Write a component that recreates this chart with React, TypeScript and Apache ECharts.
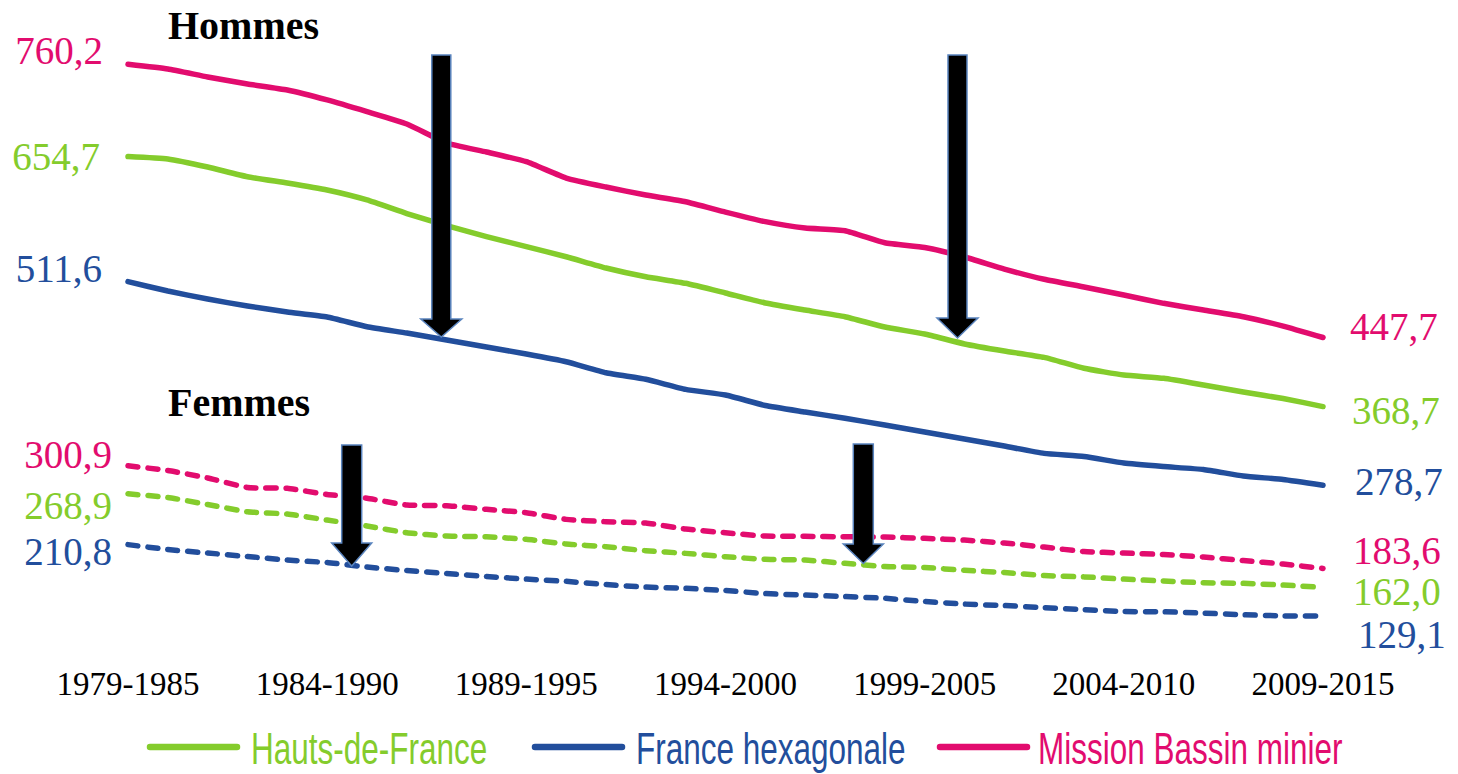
import React, { useEffect, useRef } from 'react';
import * as echarts from 'echarts';

const periods = [
  '1979-1985', '1980-1986', '1981-1987', '1982-1988', '1983-1989', '1984-1990',
  '1985-1991', '1986-1992', '1987-1993', '1988-1994', '1989-1995', '1990-1996',
  '1991-1997', '1992-1998', '1993-1999', '1994-2000', '1995-2001', '1996-2002',
  '1997-2003', '1998-2004', '1999-2005', '2000-2006', '2001-2007', '2002-2008',
  '2003-2009', '2004-2010', '2005-2011', '2006-2012', '2007-2013', '2008-2014',
  '2009-2015',
];

const hdfHommes = [
  654.7, 651.9, 642.7, 631.6, 624.4, 616.4, 605.0, 589.5, 575.8, 563.2, 551.6,
  540.1, 527.2, 517.2, 509.7, 498.6, 487.2, 479.1, 471.5, 459.7, 451.7, 440.3,
  432.2, 425.0, 412.5, 404.8, 401.0, 393.4, 385.4, 377.9, 368.7,
];
const franceHommes = [
  511.6, 500.9, 491.7, 483.7, 476.9, 471.1, 460.0, 452.8, 444.8, 436.8, 428.8,
  420.0, 407.4, 399.9, 388.4, 381.9, 369.9, 362.5, 355.3, 347.6, 339.6, 331.6,
  323.6, 315.2, 311.6, 304.1, 300.1, 296.7, 289.3, 285.3, 278.7,
];
const bassinHommes = [
  760.2, 754.8, 745.7, 737.7, 730.8, 719.4, 706.0, 691.9, 670.2, 659.9, 648.8,
  630.1, 619.8, 610.7, 603.0, 591.2, 580.2, 572.9, 569.9, 556.1, 550.6, 539.8,
  526.0, 514.3, 505.5, 496.3, 486.8, 479.1, 471.5, 460.8, 447.7,
];
const hdfFemmes = [
  268.9, 264.7, 256.7, 248.4, 245.8, 238.9, 232.1, 224.4, 220.6, 219.8, 216.9,
  211.5, 208.4, 203.8, 200.8, 196.9, 194.0, 193.2, 189.4, 185.7, 184.6, 181.4,
  178.9, 175.4, 173.9, 171.4, 169.2, 167.2, 166.5, 164.6, 162.0,
];
const franceFemmes = [
  210.8, 205.2, 201.2, 197.2, 193.2, 190.3, 185.2, 181.2, 177.7, 174.3, 171.4,
  168.8, 165.1, 162.3, 160.8, 158.3, 154.8, 153.1, 151.4, 149.4, 145.7, 142.8,
  141.1, 138.8, 136.5, 134.3, 134.0, 132.5, 130.6, 129.3, 129.1,
];
const bassinFemmes = [
  300.9, 295.6, 287.0, 276.1, 275.2, 268.1, 263.8, 256.1, 255.3, 251.2, 247.3,
  239.7, 237.0, 235.5, 228.6, 224.4, 220.6, 220.3, 219.8, 219.5, 218.0, 216.0,
  212.6, 208.0, 202.9, 201.2, 199.5, 196.6, 192.6, 188.6, 183.6,
];

const seriesNames = ['Hauts-de-France', 'France hexagonale', 'Mission Bassin minier'];
const GREEN = '#84CC2C';
const BLUE = '#224E9C';
const PINK = '#E20C6E';
const seriesColors = [GREEN, BLUE, PINK];

const SERIF = '"Liberation Serif", "Times New Roman", serif';
const SANS = '"Liberation Sans", Arial, sans-serif';

const fmt = (v: number) => v.toFixed(1).replace('.', ',');

function buildData(
  values: number[],
  color: string,
  left: { dist: number; dy: number },
  right: { dist: number; dy: number }
) {
  const last = values.length - 1;
  return values.map((v, i) => {
    if (i === 0 || i === last) {
      const cfg = i === 0 ? left : right;
      return {
        value: v,
        label: {
          show: true,
          position: i === 0 ? 'left' : 'right',
          distance: cfg.dist,
          offset: [0, cfg.dy],
          formatter: () => fmt(v),
          color,
          fontFamily: SERIF,
          fontSize: 39,
        },
      };
    }
    return v;
  });
}

function arrow(cx: number, top: number, headStart: number, tip: number, shaftW: number, headW: number) {
  const sl = cx - shaftW / 2;
  const sr = cx + shaftW / 2;
  const hl = cx - headW / 2;
  const hr = cx + headW / 2;
  return {
    type: 'polygon',
    z: 100,
    shape: {
      points: [
        [sl, top], [sr, top], [sr, headStart], [hr, headStart], [cx, tip], [hl, headStart], [sl, headStart],
      ],
    },
    style: { fill: '#000000', stroke: '#5A84BE', lineWidth: 1.5, lineJoin: 'miter' },
  };
}

// custom condensed legend (icon line start/end, text start)
const legendSlots = [
  { x1: 150, x2: 237, tx: 251 },
  { x1: 535, x2: 622, tx: 636 },
  { x1: 940, x2: 1027, tx: 1038 },
];
const LEGEND_Y = 748;

export default function App() {
  const ref = useRef<HTMLDivElement>(null);

  useEffect(() => {
    document.body.style.margin = '0';
    if (!ref.current) return;
    const chart = echarts.init(ref.current, undefined, { renderer: 'svg' });

    const solid = (name: string, data: number[], color: string, l: any, r: any) => ({
      name,
      type: 'line',
      data: buildData(data, color, l, r),
      symbol: 'circle',
      symbolSize: 0,
      showSymbol: true,
      smooth: 0.15,
      lineStyle: { color, width: 5.5, cap: 'round', join: 'round' },
      itemStyle: { color },
      emphasis: { disabled: true },
      z: 3,
    });
    const dashed = (name: string, data: number[], color: string, l: any, r: any) => ({
      ...solid(name, data, color, l, r),
      lineStyle: { color, width: 5.5, type: [10, 10], cap: 'round', join: 'round' },
    });

    const legendGraphics: any[] = [];
    seriesNames.forEach((name, i) => {
      const s = legendSlots[i];
      legendGraphics.push({
        type: 'line',
        shape: { x1: s.x1, y1: LEGEND_Y - 1, x2: s.x2, y2: LEGEND_Y - 1 },
        style: { stroke: seriesColors[i], lineWidth: 6.5, lineCap: 'round' },
      });
      legendGraphics.push({
        type: 'text',
        x: s.tx,
        y: LEGEND_Y,
        scaleX: 0.7,
        style: {
          text: name,
          font: `45px ${SANS}`,
          fill: seriesColors[i],
          verticalAlign: 'middle',
          align: 'left',
        },
      });
    });

    chart.setOption({
      animation: false,
      backgroundColor: '#ffffff',
      grid: { left: 128, right: 135, top: 29.5, height: 612, containLabel: false },
      xAxis: {
        type: 'category',
        data: periods,
        boundaryGap: false,
        axisLine: { show: false },
        axisTick: { show: false },
        splitLine: { show: false },
        axisLabel: {
          interval: 4,
          margin: 26,
          color: '#000000',
          fontFamily: SERIF,
          fontSize: 33,
        },
      },
      yAxis: {
        type: 'value',
        min: 100,
        max: 800,
        show: false,
      },
      series: [
        solid(seriesNames[0], hdfHommes, GREEN, { dist: 28, dy: 0 }, { dist: 29, dy: 4 }),
        solid(seriesNames[1], franceHommes, BLUE, { dist: 26, dy: -13 }, { dist: 32, dy: -3.5 }),
        solid(seriesNames[2], bassinHommes, PINK, { dist: 25, dy: -14 }, { dist: 27, dy: -11 }),
        dashed(seriesNames[0], hdfFemmes, GREEN, { dist: 16, dy: 12 }, { dist: 30, dy: 4 }),
        dashed(seriesNames[1], franceFemmes, BLUE, { dist: 16, dy: 7 }, { dist: 35, dy: 18 }),
        dashed(seriesNames[2], bassinFemmes, PINK, { dist: 16, dy: -11 }, { dist: 30, dy: -17.5 }),
      ],
      graphic: [
        {
          type: 'text',
          x: 168,
          y: 25,
          style: { text: 'Hommes', font: `bold 40px ${SERIF}`, fill: '#000000', verticalAlign: 'middle' },
        },
        {
          type: 'text',
          x: 168,
          y: 402,
          style: { text: 'Femmes', font: `bold 40px ${SERIF}`, fill: '#000000', verticalAlign: 'middle' },
        },
        arrow(441.3, 55, 319, 337, 19, 41),
        arrow(957.5, 55, 318, 338, 19, 41),
        arrow(351.7, 445, 543, 566, 20, 40),
        arrow(863.3, 444, 544, 563.5, 20, 40),
        ...legendGraphics,
      ],
    });

    return () => chart.dispose();
  }, []);

  return <div ref={ref} style={{ width: 1458, height: 774 }} />;
}
